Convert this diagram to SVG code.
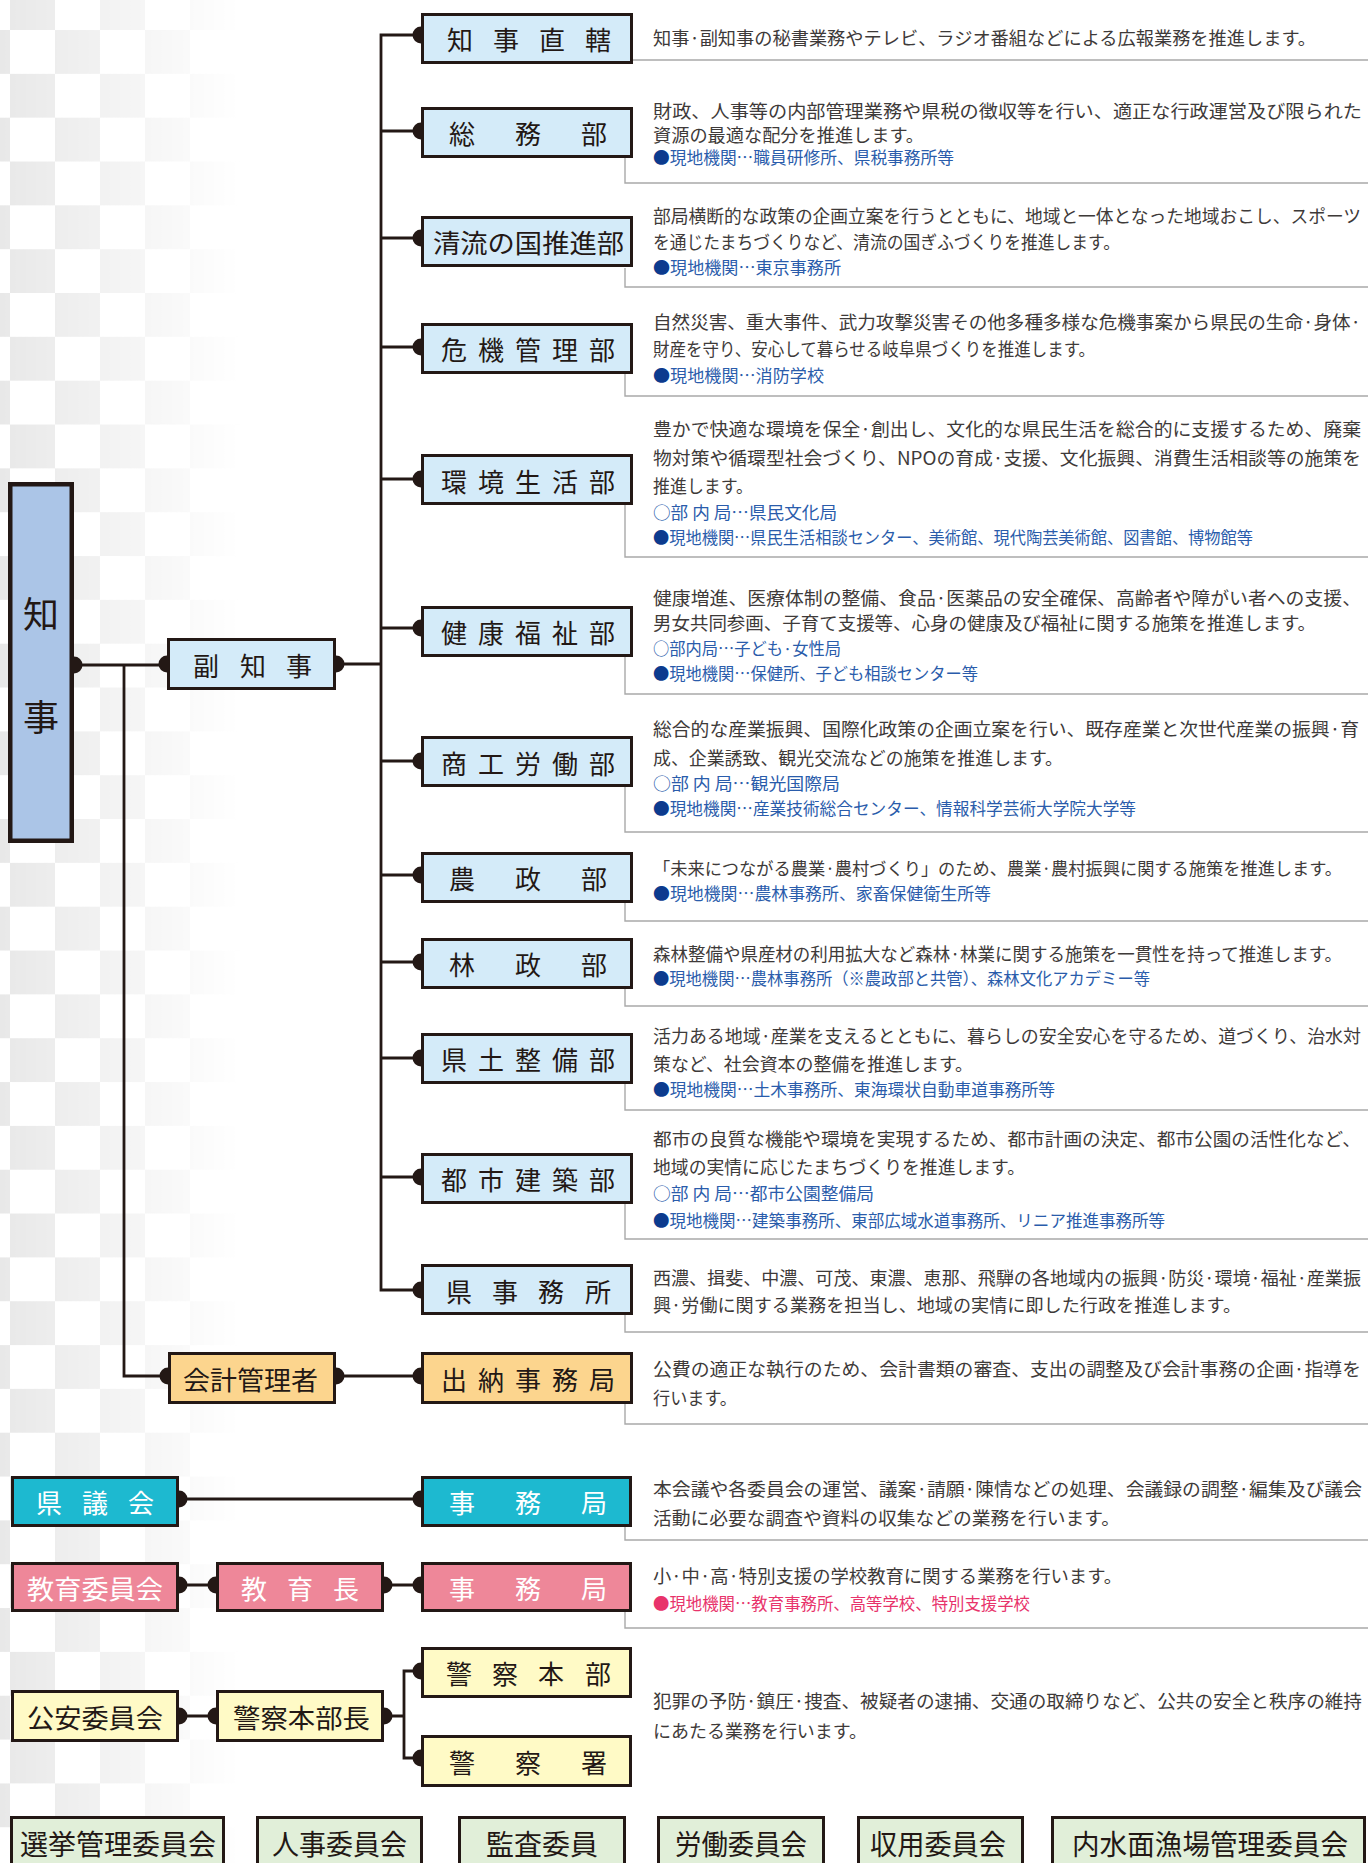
<svg xmlns="http://www.w3.org/2000/svg" width="1368" height="1863" viewBox="0 0 1368 1863">
<defs>
<pattern id="chk" x="10" y="-13.83" width="90" height="87.67" patternUnits="userSpaceOnUse">
<rect width="45" height="43.83" fill="#e8e8e8"/>
<rect x="45" y="43.83" width="45" height="43.83" fill="#e8e8e8"/>
</pattern>
<linearGradient id="fg" x1="0" y1="0" x2="240" y2="0" gradientUnits="userSpaceOnUse">
<stop offset="0" stop-color="#fff"/>
<stop offset="1" stop-color="#000"/>
</linearGradient>
<mask id="fade"><rect width="240" height="1863" fill="url(#fg)"/></mask>
</defs>
<style>
.box{stroke:#231815;stroke-width:3}
.dept{fill:#d4ebf9}
.gov{fill:#abc5e7;stroke:#231815;stroke-width:4.5}
.org{fill:#fcd58e}
.cyan{fill:#1db9d0}
.pinkb{fill:#ee8799}
.yel{fill:#fffac6}
.grn{fill:#e1efd9}
.lbl{font-family:"Noto Sans CJK JP","Noto Sans",sans-serif;font-size:26px;fill:#231815;text-anchor:middle;dominant-baseline:central}
.lblf{font-family:"Noto Sans CJK JP","Noto Sans",sans-serif;font-size:26px;fill:#231815;dominant-baseline:central}
.big{font-size:28px}
.wh{fill:#ffffff}
.desc{font-family:"Noto Sans CJK JP","Noto Sans",sans-serif;font-size:18px;fill:#3e3a39;dominant-baseline:central}
.blue{font-size:16.5px;fill:#2a5cab}
.bl{fill:#0c3b8e}
.pk{font-size:16.5px;fill:#e8336b}
.conn{stroke:#231815;stroke-width:2.8;fill:none}
.knob{fill:#231815}
.rule{stroke:#a9a9a9;stroke-width:1.4;fill:none}
</style>
<rect width="1368" height="1863" fill="#ffffff"/>
<rect width="240" height="1863" fill="url(#chk)" mask="url(#fade)"/>

<g id="connectors">
<path class="conn" d="M421,35 H381 V1290 H421"/>
<path class="conn" d="M381,131 H421 M381,238 H421 M381,347 H421 M381,479 H421 M381,628 H421 M381,761 H421 M381,875 H421 M381,962 H421 M381,1058 H421 M381,1177 H421"/>
<path class="conn" d="M74,665 H167 M336,664 H381"/>
<path class="conn" d="M124,665 V1376 H168 M336,1376 H421"/>
<path class="conn" d="M179,1499 H421"/>
<path class="conn" d="M179,1585 H216 M384,1585 H421"/>
<path class="conn" d="M179,1716 H216 M384,1716 H404 M421,1671 H404 V1758 H421"/>
<g class="knob">
<circle cx="421" cy="35" r="8.5"/><circle cx="421" cy="131" r="8.5"/><circle cx="421" cy="238" r="8.5"/><circle cx="421" cy="347" r="8.5"/><circle cx="421" cy="479" r="8.5"/><circle cx="421" cy="628" r="8.5"/><circle cx="421" cy="761" r="8.5"/><circle cx="421" cy="875" r="8.5"/><circle cx="421" cy="962" r="8.5"/><circle cx="421" cy="1058" r="8.5"/><circle cx="421" cy="1177" r="8.5"/><circle cx="421" cy="1290" r="8.5"/>
<circle cx="74" cy="665" r="8.5"/><circle cx="167" cy="664" r="8.5"/><circle cx="336" cy="664" r="8.5"/>
<circle cx="168" cy="1376" r="8.5"/><circle cx="336" cy="1376" r="8.5"/><circle cx="421" cy="1376" r="8.5"/>
<circle cx="179" cy="1499" r="8.5"/><circle cx="421" cy="1499" r="8.5"/>
<circle cx="179" cy="1585" r="8.5"/><circle cx="216" cy="1585" r="8.5"/><circle cx="384" cy="1585" r="8.5"/><circle cx="421" cy="1585" r="8.5"/>
<circle cx="179" cy="1716" r="8.5"/><circle cx="216" cy="1716" r="8.5"/><circle cx="384" cy="1716" r="8.5"/><circle cx="421" cy="1671" r="8.5"/><circle cx="421" cy="1758" r="8.5"/>
</g>
</g>

<g id="chiji">
<rect class="gov" x="10.25" y="484.25" width="61.5" height="356.5"/>
<text class="lbl" x="41" y="612" style="font-size:36px">知</text>
<text class="lbl" x="41" y="715" style="font-size:36px">事</text>
</g>

<g id="fukuchiji">
<rect class="box dept" x="168.5" y="639.5" width="166" height="49"/>
<text class="lbl" x="206 253 299" y="664">副知事</text>
</g>

<g id="chiji-chokkatsu">
<rect class="box dept" x="422.5" y="14.5" width="209" height="48"/>
<text class="lbl" x="460 506 552 598" y="38">知事直轄</text>
<path class="rule" d="M633,60 H1368"/>
<text class="desc" x="653" y="37" textLength="663" lengthAdjust="spacingAndGlyphs">知事·副知事の秘書業務やテレビ、ラジオ番組などによる広報業務を推進します。</text>
</g>

<g id="somu">
<rect class="box dept" x="422.5" y="108.5" width="209" height="48"/>
<text class="lbl" x="462 528 594" y="132">総務部</text>
<path class="rule" d="M625,158 V183 H1368"/>
<text class="desc" x="653" y="110" textLength="709" lengthAdjust="spacingAndGlyphs">財政、人事等の内部管理業務や県税の徴収等を行い、適正な行政運営及び限られた</text>
<text class="desc" x="653" y="134" textLength="271" lengthAdjust="spacingAndGlyphs">資源の最適な配分を推進します。</text>
<text class="desc blue" x="653" y="157" textLength="301" lengthAdjust="spacingAndGlyphs"><tspan class="bl">●</tspan>現地機関…職員研修所、県税事務所等</text>
</g>

<g id="seiryu">
<rect class="box dept" x="422.5" y="217.5" width="209" height="48"/>
<text class="lblf" x="433" y="241" textLength="191" lengthAdjust="spacingAndGlyphs">清流の国推進部</text>
<path class="rule" d="M625,268 V287 H1368"/>
<text class="desc" x="653" y="215" textLength="708" lengthAdjust="spacingAndGlyphs">部局横断的な政策の企画立案を行うとともに、地域と一体となった地域おこし、スポーツ</text>
<text class="desc" x="653" y="241" textLength="467" lengthAdjust="spacingAndGlyphs">を通じたまちづくりなど、清流の国ぎふづくりを推進します。</text>
<text class="desc blue" x="653" y="267" textLength="188" lengthAdjust="spacingAndGlyphs"><tspan class="bl">●</tspan>現地機関…東京事務所</text>
</g>

<g id="kiki">
<rect class="box dept" x="422.5" y="324.5" width="209" height="48"/>
<text class="lbl" x="454 491 528 565 602" y="348">危機管理部</text>
<path class="rule" d="M625,374 V396 H1368"/>
<text class="desc" x="653" y="321" textLength="708" lengthAdjust="spacingAndGlyphs">自然災害、重大事件、武力攻撃災害その他多種多様な危機事案から県民の生命·身体·</text>
<text class="desc" x="653" y="348" textLength="442" lengthAdjust="spacingAndGlyphs">財産を守り、安心して暮らせる岐阜県づくりを推進します。</text>
<text class="desc blue" x="653" y="375" textLength="171" lengthAdjust="spacingAndGlyphs"><tspan class="bl">●</tspan>現地機関…消防学校</text>
</g>

<g id="kankyo">
<rect class="box dept" x="422.5" y="455.5" width="209" height="48"/>
<text class="lbl" x="454 491 528 565 602" y="480">環境生活部</text>
<path class="rule" d="M625,505 V557 H1368"/>
<text class="desc" x="653" y="428" textLength="708" lengthAdjust="spacingAndGlyphs">豊かで快適な環境を保全·創出し、文化的な県民生活を総合的に支援するため、廃棄</text>
<text class="desc" x="653" y="457" textLength="708" lengthAdjust="spacingAndGlyphs">物対策や循環型社会づくり、NPOの育成·支援、文化振興、消費生活相談等の施策を</text>
<text class="desc" x="653" y="485" textLength="100" lengthAdjust="spacingAndGlyphs">推進します。</text>
<text class="desc blue" x="653" y="512" textLength="184" lengthAdjust="spacingAndGlyphs">○部 内 局…県民文化局</text>
<text class="desc blue" x="653" y="537" textLength="600" lengthAdjust="spacingAndGlyphs"><tspan class="bl">●</tspan>現地機関…県民生活相談センター、美術館、現代陶芸美術館、図書館、博物館等</text>
</g>

<g id="kenko">
<rect class="box dept" x="422.5" y="607.5" width="209" height="48"/>
<text class="lbl" x="454 491 528 565 602" y="631">健康福祉部</text>
<path class="rule" d="M625,657 V694 H1368"/>
<text class="desc" x="653" y="597" textLength="708" lengthAdjust="spacingAndGlyphs">健康増進、医療体制の整備、食品·医薬品の安全確保、高齢者や障がい者への支援、</text>
<text class="desc" x="653" y="622" textLength="663" lengthAdjust="spacingAndGlyphs">男女共同参画、子育て支援等、心身の健康及び福祉に関する施策を推進します。</text>
<text class="desc blue" x="653" y="648" textLength="188" lengthAdjust="spacingAndGlyphs">○部内局…子ども·女性局</text>
<text class="desc blue" x="653" y="673" textLength="325" lengthAdjust="spacingAndGlyphs"><tspan class="bl">●</tspan>現地機関…保健所、子ども相談センター等</text>
</g>

<g id="shoko">
<rect class="box dept" x="422.5" y="737.5" width="209" height="48"/>
<text class="lbl" x="454 491 528 565 602" y="762">商工労働部</text>
<path class="rule" d="M625,787 V832 H1368"/>
<text class="desc" x="653" y="728" textLength="706" lengthAdjust="spacingAndGlyphs">総合的な産業振興、国際化政策の企画立案を行い、既存産業と次世代産業の振興·育</text>
<text class="desc" x="653" y="757" textLength="410" lengthAdjust="spacingAndGlyphs">成、企業誘致、観光交流などの施策を推進します。</text>
<text class="desc blue" x="653" y="783" textLength="187" lengthAdjust="spacingAndGlyphs">○部 内 局…観光国際局</text>
<text class="desc blue" x="653" y="808" textLength="483" lengthAdjust="spacingAndGlyphs"><tspan class="bl">●</tspan>現地機関…産業技術総合センター、情報科学芸術大学院大学等</text>
</g>

<g id="nosei">
<rect class="box dept" x="422.5" y="853.5" width="209" height="48"/>
<text class="lbl" x="462 528 594" y="877">農政部</text>
<path class="rule" d="M625,903 V921 H1368"/>
<text class="desc" x="653" y="867" textLength="689" lengthAdjust="spacingAndGlyphs" style="font-size:17.4px">「未来につながる農業·農村づくり」のため、農業·農村振興に関する施策を推進します。</text>
<text class="desc blue" x="653" y="893" textLength="338" lengthAdjust="spacingAndGlyphs"><tspan class="bl">●</tspan>現地機関…農林事務所、家畜保健衛生所等</text>
</g>

<g id="rinsei">
<rect class="box dept" x="422.5" y="939.5" width="209" height="48"/>
<text class="lbl" x="462 528 594" y="963">林政部</text>
<path class="rule" d="M625,989 V1006 H1368"/>
<text class="desc" x="653" y="953" textLength="689" lengthAdjust="spacingAndGlyphs">森林整備や県産材の利用拡大など森林·林業に関する施策を一貫性を持って推進します。</text>
<text class="desc blue" x="653" y="978" textLength="497" lengthAdjust="spacingAndGlyphs"><tspan class="bl">●</tspan>現地機関…農林事務所（※農政部と共管）、森林文化アカデミー等</text>
</g>

<g id="kendo">
<rect class="box dept" x="422.5" y="1034.5" width="209" height="48"/>
<text class="lbl" x="454 491 528 565 602" y="1058">県土整備部</text>
<path class="rule" d="M625,1084 V1110 H1368"/>
<text class="desc" x="653" y="1035" textLength="708" lengthAdjust="spacingAndGlyphs">活力ある地域·産業を支えるとともに、暮らしの安全安心を守るため、道づくり、治水対</text>
<text class="desc" x="653" y="1063" textLength="320" lengthAdjust="spacingAndGlyphs">策など、社会資本の整備を推進します。</text>
<text class="desc blue" x="653" y="1089" textLength="402" lengthAdjust="spacingAndGlyphs"><tspan class="bl">●</tspan>現地機関…土木事務所、東海環状自動車道事務所等</text>
</g>

<g id="toshi">
<rect class="box dept" x="422.5" y="1154.5" width="209" height="48"/>
<text class="lbl" x="454 491 528 565 602" y="1178">都市建築部</text>
<path class="rule" d="M625,1204 V1239 H1368"/>
<text class="desc" x="653" y="1138" textLength="708" lengthAdjust="spacingAndGlyphs">都市の良質な機能や環境を実現するため、都市計画の決定、都市公園の活性化など、</text>
<text class="desc" x="653" y="1166" textLength="372" lengthAdjust="spacingAndGlyphs">地域の実情に応じたまちづくりを推進します。</text>
<text class="desc blue" x="653" y="1193" textLength="221" lengthAdjust="spacingAndGlyphs">○部 内 局…都市公園整備局</text>
<text class="desc blue" x="653" y="1220" textLength="512" lengthAdjust="spacingAndGlyphs"><tspan class="bl">●</tspan>現地機関…建築事務所、東部広域水道事務所、リニア推進事務所等</text>
</g>

<g id="kenjimusho">
<rect class="box dept" x="422.5" y="1265.5" width="209" height="48"/>
<text class="lbl" x="459 505 551 598" y="1290">県事務所</text>
<path class="rule" d="M625,1315 V1332 H1368"/>
<text class="desc" x="653" y="1277" textLength="708" lengthAdjust="spacingAndGlyphs">西濃、揖斐、中濃、可茂、東濃、恵那、飛騨の各地域内の振興·防災·環境·福祉·産業振</text>
<text class="desc" x="653" y="1304" textLength="588" lengthAdjust="spacingAndGlyphs">興·労働に関する業務を担当し、地域の実情に即した行政を推進します。</text>
</g>

<g id="kaikei">
<rect class="box org" x="169.5" y="1353.5" width="165" height="49"/>
<text class="lblf" x="183" y="1378" textLength="135" lengthAdjust="spacingAndGlyphs">会計管理者</text>
</g>

<g id="suito">
<rect class="box org" x="422.5" y="1353.5" width="209" height="49"/>
<text class="lbl" x="454 491 528 565 602" y="1378">出納事務局</text>
<path class="rule" d="M625,1404 V1424 H1368"/>
<text class="desc" x="653" y="1368" textLength="708" lengthAdjust="spacingAndGlyphs">公費の適正な執行のため、会計書類の審査、支出の調整及び会計事務の企画·指導を</text>
<text class="desc" x="653" y="1397" textLength="84" lengthAdjust="spacingAndGlyphs">行います。</text>
</g>

<g id="gikai">
<rect class="box cyan" x="12.5" y="1477.5" width="165" height="48"/>
<text class="lbl wh" x="49 95 141" y="1501">県議会</text>
</g>

<g id="gikai-jimukyoku">
<rect class="box cyan" x="422.5" y="1477.5" width="208" height="48"/>
<text class="lbl wh" x="462 528 594" y="1501">事務局</text>
<path class="rule" d="M625,1527 V1540 H1368"/>
<text class="desc" x="653" y="1488" textLength="709" lengthAdjust="spacingAndGlyphs">本会議や各委員会の運営、議案·請願·陳情などの処理、会議録の調整·編集及び議会</text>
<text class="desc" x="653" y="1517" textLength="467" lengthAdjust="spacingAndGlyphs">活動に必要な調査や資料の収集などの業務を行います。</text>
</g>

<g id="kyoiku-iinkai">
<rect class="box pinkb" x="12.5" y="1563.5" width="165" height="47"/>
<text class="lblf wh" x="27" y="1587" textLength="136" lengthAdjust="spacingAndGlyphs">教育委員会</text>
</g>

<g id="kyoikucho">
<rect class="box pinkb" x="217.5" y="1563.5" width="165" height="47"/>
<text class="lbl wh" x="254 300 346" y="1587">教育長</text>
</g>

<g id="kyoiku-jimukyoku">
<rect class="box pinkb" x="422.5" y="1563.5" width="208" height="47"/>
<text class="lbl wh" x="462 528 594" y="1587">事務局</text>
<path class="rule" d="M625,1612 V1628 H1368"/>
<text class="desc" x="653" y="1575" textLength="469" lengthAdjust="spacingAndGlyphs">小·中·高·特別支援の学校教育に関する業務を行います。</text>
<text class="desc pk" x="653" y="1603" textLength="377" lengthAdjust="spacingAndGlyphs">●現地機関…教育事務所、高等学校、特別支援学校</text>
</g>

<g id="koan-iinkai">
<rect class="box yel" x="12.5" y="1691.5" width="165" height="49"/>
<text class="lblf" x="27" y="1716" textLength="136" lengthAdjust="spacingAndGlyphs">公安委員会</text>
</g>

<g id="keisatsu-honbucho">
<rect class="box yel" x="217.5" y="1691.5" width="165" height="49"/>
<text class="lblf" x="233" y="1716" textLength="137" lengthAdjust="spacingAndGlyphs">警察本部長</text>
</g>

<g id="keisatsu-honbu">
<rect class="box yel" x="422.5" y="1648.5" width="208" height="48"/>
<text class="lbl" x="459 505 551 598" y="1672">警察本部</text>
</g>

<g id="keisatsusho">
<rect class="box yel" x="422.5" y="1736.5" width="208" height="49"/>
<text class="lbl" x="462 528 594" y="1761">警察署</text>
<text class="desc" x="653" y="1700" textLength="709" lengthAdjust="spacingAndGlyphs">犯罪の予防·鎮圧·捜査、被疑者の逮捕、交通の取締りなど、公共の安全と秩序の維持</text>
<text class="desc" x="653" y="1730" textLength="214" lengthAdjust="spacingAndGlyphs">にあたる業務を行います。</text>
</g>

<g id="senkyo">
<rect class="box grn" x="11.5" y="1817.5" width="212" height="70"/>
<text class="lblf big" x="20" y="1843" textLength="196" lengthAdjust="spacingAndGlyphs">選挙管理委員会</text>
</g>
<g id="jinji">
<rect class="box grn" x="257.5" y="1817.5" width="164" height="70"/>
<text class="lblf big" x="272" y="1843" textLength="135" lengthAdjust="spacingAndGlyphs">人事委員会</text>
</g>
<g id="kansa">
<rect class="box grn" x="459.5" y="1817.5" width="165" height="70"/>
<text class="lblf big" x="486" y="1843" textLength="112" lengthAdjust="spacingAndGlyphs">監査委員</text>
</g>
<g id="rodo">
<rect class="box grn" x="658.5" y="1817.5" width="165" height="70"/>
<text class="lblf big" x="675" y="1843" textLength="132" lengthAdjust="spacingAndGlyphs">労働委員会</text>
</g>
<g id="shuyo">
<rect class="box grn" x="858.5" y="1817.5" width="164" height="70"/>
<text class="lblf big" x="870" y="1843" textLength="136" lengthAdjust="spacingAndGlyphs">収用委員会</text>
</g>
<g id="naisuimen">
<rect class="box grn" x="1052.5" y="1817.5" width="312" height="70"/>
<text class="lblf big" x="1072" y="1843" textLength="276" lengthAdjust="spacingAndGlyphs">内水面漁場管理委員会</text>
</g>
</svg>
